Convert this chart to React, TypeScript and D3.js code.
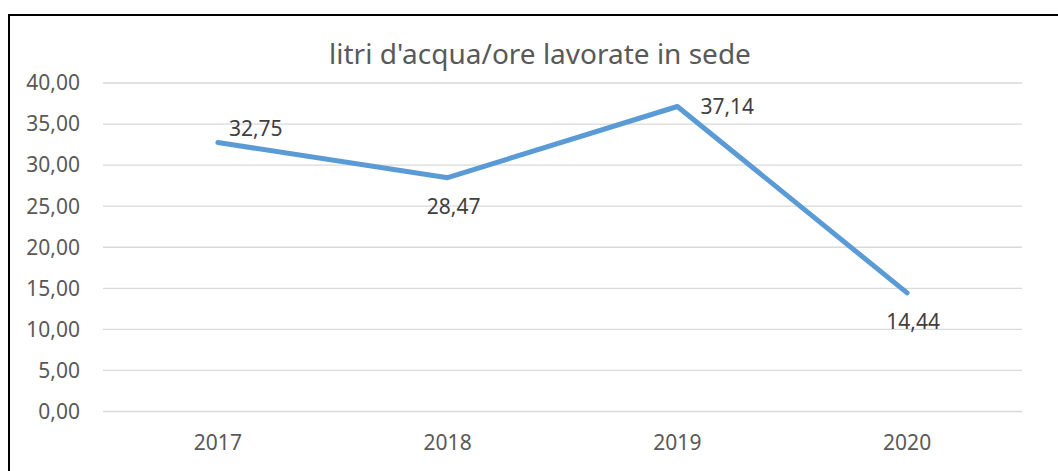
import React, { useRef, useEffect } from "react";
import * as d3 from "d3";

const years = ["2017", "2018", "2019", "2020"];
const values = [32.75, 28.47, 37.14, 14.44];
const labelPlacement = ["above-right", "below", "right", "below"];
const yTicks = [0, 5, 10, 15, 20, 25, 30, 35, 40];
const title = "litri d'acqua/ore lavorate in sede";

const WIDTH = 1058;
const HEIGHT = 471;

const itLocale = d3.formatLocale({
  decimal: ",",
  thousands: ".",
  grouping: [3],
  currency: ["€", ""],
});
const fmt = itLocale.format(".2f");

const App: React.FC = () => {
  const ref = useRef<SVGSVGElement | null>(null);

  useEffect(() => {
    const svg = d3.select(ref.current);
    svg.selectAll("*").remove();
    svg.attr("width", WIDTH).attr("height", HEIGHT);

    const font = "'Noto Sans', 'Open Sans', sans-serif";
    const plot = { left: 103, right: 1022, top: 83, bottom: 411.5 };

    // white background + outer border (cut by the picture on right/bottom)
    svg
      .append("rect")
      .attr("width", WIDTH)
      .attr("height", HEIGHT)
      .attr("fill", "#fff");
    svg
      .append("rect")
      .attr("x", 9)
      .attr("y", 15)
      .attr("width", WIDTH + 20)
      .attr("height", HEIGHT + 20)
      .attr("fill", "none")
      .attr("stroke", "#000")
      .attr("stroke-width", 2);

    const x = d3
      .scalePoint<string>()
      .domain(years)
      .range([plot.left, plot.right])
      .padding(0.5);
    const y = d3.scaleLinear().domain([0, 40]).range([plot.bottom, plot.top]);

    // gridlines
    svg
      .append("g")
      .selectAll("line")
      .data(yTicks)
      .enter()
      .append("line")
      .attr("x1", plot.left)
      .attr("x2", plot.right)
      .attr("y1", (d) => y(d))
      .attr("y2", (d) => y(d))
      .attr("stroke", "#d9d9d9")
      .attr("stroke-width", 1.3);

    // y labels
    svg
      .append("g")
      .selectAll("text")
      .data(yTicks)
      .enter()
      .append("text")
      .attr("x", 80)
      .attr("y", (d) => y(d))
      .attr("dy", "0.35em")
      .attr("text-anchor", "end")
      .attr("fill", "#595959")
      .style("font-family", font)
      .style("font-size", "21px")
      .text((d) => fmt(d));

    // x labels
    svg
      .append("g")
      .selectAll("text")
      .data(years)
      .enter()
      .append("text")
      .attr("x", (d) => x(d) as number)
      .attr("y", 450)
      .attr("text-anchor", "middle")
      .attr("fill", "#595959")
      .style("font-family", font)
      .style("font-size", "21px")
      .text((d) => d);

    // title
    svg
      .append("text")
      .attr("x", 540)
      .attr("y", 64)
      .attr("text-anchor", "middle")
      .attr("fill", "#595959")
      .style("font-family", font)
      .style("font-size", "28px")
      .text(title);

    // line
    const line = d3
      .line<number>()
      .x((_, i) => x(years[i]) as number)
      .y((d) => y(d));
    svg
      .append("path")
      .datum(values)
      .attr("fill", "none")
      .attr("stroke", "#5b9bd5")
      .attr("stroke-width", 5)
      .attr("stroke-linecap", "round")
      .attr("stroke-linejoin", "round")
      .attr("d", line);

    // data labels
    const offsets: Record<string, { dx: number; dy: number; anchor: string }> = {
      "above-right": { dx: 11, dy: -7, anchor: "start" },
      right: { dx: 23, dy: 8, anchor: "start" },
      below: { dx: 6, dy: 36, anchor: "middle" },
    };
    svg
      .append("g")
      .selectAll("text")
      .data(values)
      .enter()
      .append("text")
      .attr("x", (_, i) => (x(years[i]) as number) + offsets[labelPlacement[i]].dx)
      .attr("y", (d, i) => y(d) + offsets[labelPlacement[i]].dy)
      .attr("text-anchor", (_, i) => offsets[labelPlacement[i]].anchor)
      .attr("fill", "#404040")
      .style("font-family", font)
      .style("font-size", "21px")
      .text((d) => fmt(d));
  }, []);

  return (
    <div style={{ position: "absolute", left: 0, top: 0 }}>
      <svg ref={ref} style={{ display: "block" }} />
    </div>
  );
};

export default App;
